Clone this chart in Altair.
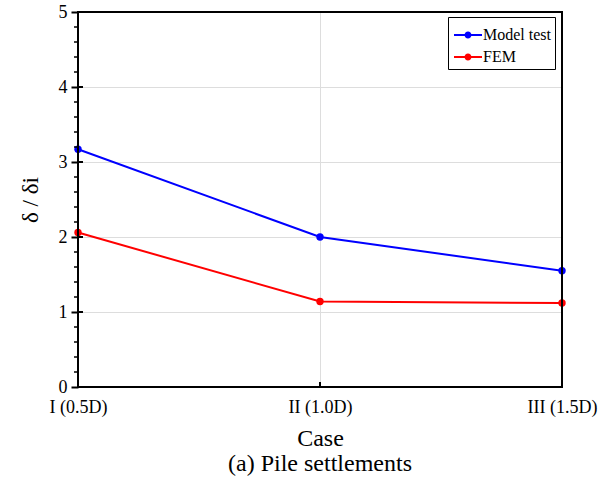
import altair as alt
import pandas as pd

# Data
cases = ["I (0.5D)", "II (1.0D)", "III (1.5D)"]
case_pos = [0, 1, 2]
model_test = [3.17, 2.00, 1.55]
fem = [2.06, 1.14, 1.12]
series_names = ["Model test", "FEM"]
series_colors = ["#0000ff", "#ff0000"]
major_y = [0, 1, 2, 3, 4, 5]
minor_y = [round(i * 0.2, 1) for i in range(26) if i % 5 != 0]

FONT = "Liberation Serif"
W, H = 484, 375

rows = []
for name, vals in zip(series_names, [model_test, fem]):
    for p, c, v in zip(case_pos, cases, vals):
        rows.append({"pos": p, "case": c, "value": v, "series": name})
df = pd.DataFrame(rows)

label_expr = "[" + ",".join(f"'{c}'" for c in cases) + "][round(datum.value)]"

x_scale = alt.Scale(domain=[0, 2], nice=False)
y_scale = alt.Scale(domain=[0, 5], nice=False)

x_enc = alt.X(
    "pos:Q",
    scale=x_scale,
    axis=alt.Axis(
        values=case_pos, labelExpr=label_expr, title="Case", ticks=False,
        labelFont=FONT, titleFont=FONT, titleFontWeight=400,
        labelFontSize=18, labelPadding=11, titleFontSize=24, titlePadding=10,
        labelFlush=False,
    ),
)
y_enc = alt.Y(
    "value:Q",
    scale=y_scale,
    axis=alt.Axis(
        values=major_y, title="δ / δi", format="d",
        labelFont=FONT, titleFont=FONT, titleFontWeight=400,
        labelFontSize=18, labelPadding=4, tickColor="black", tickWidth=2,
        tickSize=7, titleFontSize=23, titlePadding=16,
    ),
)

legend_symbol = (
    "M-1,-0.07 L1,-0.07 L1,0.07 L-1,0.07 Z "
    "M-0.25,0 A0.25,0.25 0 1,1 0.25,0 A0.25,0.25 0 1,1 -0.25,0 Z"
)
color_enc = alt.Color(
    "series:N",
    scale=alt.Scale(domain=series_names, range=series_colors),
    sort=series_names,
    legend=alt.Legend(
        title=None, orient="none", legendX=370, legendY=5,
        symbolType=legend_symbol, symbolSize=784, symbolStrokeWidth=0,
        symbolOpacity=1, symbolOffset=2, labelFont=FONT, labelFontSize=16,
        labelOffset=1, strokeColor="black", padding=4, rowPadding=-5,
        fillColor="white", cornerRadius=0,
    ),
)

lines = alt.Chart(df).mark_line(strokeWidth=2).encode(
    x=x_enc, y=y_enc, color=color_enc, detail="series:N",
)
points = alt.Chart(df).mark_point(filled=True, size=55, opacity=1).encode(
    x="pos:Q", y="value:Q", color=color_enc,
)

# Plot frame
frame = alt.Chart(pd.DataFrame({"k": [0]})).mark_rect(
    fill=None, stroke="black", strokeWidth=2
).encode(x=alt.value(0), x2=alt.value(W), y=alt.value(0), y2=alt.value(H))

# Minor and inward major ticks on the y axis, inward tick at the middle case
minor_ticks = alt.Chart(pd.DataFrame({"v": minor_y})).mark_rule(
    color="black", strokeWidth=1.5
).encode(y=alt.Y("v:Q", scale=y_scale), x=alt.value(-4), x2=alt.value(0))
major_inner = alt.Chart(pd.DataFrame({"v": major_y[1:-1]})).mark_rule(
    color="black", strokeWidth=2
).encode(y=alt.Y("v:Q", scale=y_scale), x=alt.value(0), x2=alt.value(5))
x_inner = alt.Chart(pd.DataFrame({"p": [1]})).mark_rule(
    color="black", strokeWidth=2
).encode(x=alt.X("p:Q", scale=x_scale), y=alt.value(H - 5), y2=alt.value(H))

chart = (
    alt.layer(lines, points, frame, minor_ticks, major_inner, x_inner)
    .properties(
        width=W, height=H,
        title=alt.TitleParams(
            "(a) Pile settlements", orient="bottom", font=FONT, fontSize=24,
            fontWeight=400, color="black", offset=2,
        ),
        autosize=alt.AutoSizeParams(type="none"),
        padding={"left": 78, "top": 12, "right": 49, "bottom": 105},
    )
    .configure_view(stroke="black", strokeWidth=2)
    .configure_axis(
        labelFont=FONT, titleFont=FONT, labelColor="black", titleColor="black",
        titleFontWeight=400, domainColor="black", domainWidth=2, grid=False,
    )
    .configure_legend(labelFont=FONT, labelColor="black")
    .configure_title(font=FONT, color="black", fontWeight=400)
    .configure(background="white", font=FONT)
)

chart.save("out.html", embed_options={"renderer": "svg", "actions": False})
